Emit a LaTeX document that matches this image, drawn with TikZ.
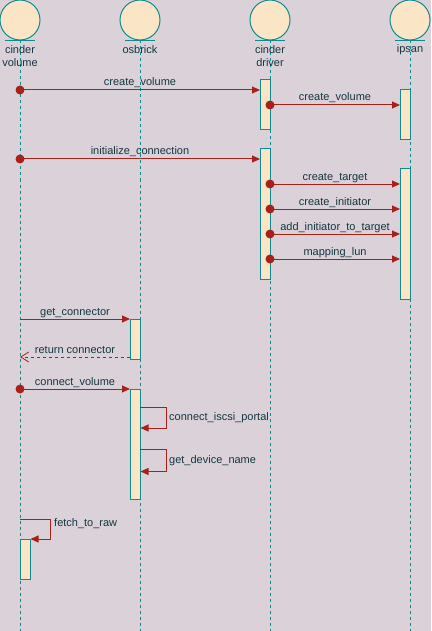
\documentclass[tikz,border=0pt]{standalone}
\usepackage{fontspec}
\setmainfont{Liberation Sans}
\usetikzlibrary{arrows.meta}
\definecolor{bgc}{HTML}{DAD2D8}
\definecolor{actfill}{HTML}{FAE5C7}
\definecolor{tealc}{HTML}{0F8B8D}
\definecolor{arrc}{HTML}{A8201A}
\definecolor{txtc}{HTML}{143642}
\tikzset{
  actor/.style={circle, draw=tealc, fill=actfill, line width=1pt, minimum size=40pt, inner sep=0pt},
  albl/.style={text=txtc, align=center, inner sep=0pt},
  lifeline/.style={draw=tealc, line width=1pt, dash pattern=on 3pt off 3pt},
  actbox/.style={draw=tealc, fill=actfill, line width=1pt, minimum width=10pt, inner sep=0pt},
  msg/.style={draw=arrc, line width=1pt, -{Triangle[length=8pt,width=7pt]}},
  retmsg/.style={draw=arrc, line width=0.8pt, dash pattern=on 3pt off 3pt, -{Straight Barb[length=8pt,width=10pt]}},
  mlbl/.style={text=txtc, anchor=base, inner sep=0pt, yshift=4pt},
  slbl/.style={text=txtc, anchor=west, inner sep=0pt},
  dot/.style={fill=arrc}
}
\begin{document}
\begin{tikzpicture}[x=1pt, y=-1pt, font=\fontsize{11}{13}\selectfont]
\fill[bgc] (0,0) rectangle (431,631);
\useasboundingbox (0,0) rectangle (431,631);
\coordinate (bottom) at (0,631);

% actors
\node[actor] (a1) at (20,20) {};
\node[actor] (a2) at (140,20) {};
\node[actor] (a3) at (270,20) {};
\node[actor] (a4) at (410,20) {};

% lifelines
\foreach \a in {a1,a2,a3,a4} {
  \draw[lifeline] (\a.south) -- (\a.south |- bottom);
  \draw[tealc, line width=1pt] ([xshift=-15pt]\a.south) -- ([xshift=15pt]\a.south);
}

% actor labels
\node[albl] (l1) at (20,56.5) {cinder\\volume};
\node[albl] (l2) at (140,50) {osbrick};
\node[albl] (l3) at (270,56.5) {cinder\\driver};
\node[albl] (l4) at (410,50) {ipsan};

% activation boxes
\node[actbox, minimum height=50pt] (d1) at (265,105) {};
\node[actbox, minimum height=50pt] (i1) at (405,114.5) {};
\node[actbox, minimum height=130pt] (d2) at (265,214) {};
\node[actbox, minimum height=130pt] (i2) at (405,234) {};
\node[actbox, minimum height=40pt] (o1) at (135,339) {};
\node[actbox, minimum height=110pt] (o2) at (135,444) {};
\node[actbox, minimum height=40pt] (v1) at (25,559) {};

% message end points
\coordinate (m1s) at (20,90);    \coordinate (m1e) at (260,90);
\coordinate (m2s) at (270,105);  \coordinate (m2e) at (400,105);
\coordinate (m3s) at (20,159);   \coordinate (m3e) at (260,159);
\coordinate (m4s) at (270,184);  \coordinate (m4e) at (400,184);
\coordinate (m5s) at (270,209);  \coordinate (m5e) at (400,209);
\coordinate (m6s) at (270,234);  \coordinate (m6e) at (400,234);
\coordinate (m7s) at (270,259);  \coordinate (m7e) at (400,259);
\coordinate (m8s) at (20,319);   \coordinate (m8e) at (130,319);
\coordinate (m9s) at (130,357);  \coordinate (m9e) at (20,357);
\coordinate (m10s) at (20,389);  \coordinate (m10e) at (130,389);

% messages
\draw[msg] (m1s) -- (m1e) node[mlbl, midway] {create\_volume};
\draw[msg] (m2s) -- (m2e) node[mlbl, midway] {create\_volume};
\draw[msg] (m3s) -- (m3e) node[mlbl, midway] {initialize\_connection};
\draw[msg] (m4s) -- (m4e) node[mlbl, midway] {create\_target};
\draw[msg] (m5s) -- (m5e) node[mlbl, midway] {create\_initiator};
\draw[msg] (m6s) -- (m6e) node[mlbl, midway] {add\_initiator\_to\_target};
\draw[msg] (m7s) -- (m7e) node[mlbl, midway] {mapping\_lun};
\draw[msg] (m8s) -- (m8e) node[mlbl, midway] {get\_connector};
\draw[retmsg] (m9s) -- (m9e) node[mlbl, midway] {return connector};
\draw[msg] (m10s) -- (m10e) node[mlbl, midway] {connect\_volume};

% start dots
\foreach \c in {m1s,m2s,m3s,m4s,m5s,m6s,m7s,m10s}
  \fill[dot] (\c) circle (4.5pt);

% self messages
\coordinate (s1a) at (140,407); \coordinate (s1b) at (166,428);
\draw[msg] (s1a) -| (s1b) -- (o2.east |- s1b);
\node[slbl] (s1l) at (169,417.5) {connect\_iscsi\_portal};

\coordinate (s2a) at (140,449); \coordinate (s2b) at (166,471.5);
\draw[msg] (s2a) -| (s2b) -- (o2.east |- s2b);
\node[slbl] (s2l) at (169,460.5) {get\_device\_name};

\coordinate (s3a) at (20,519); \coordinate (s3b) at (50,539);
\draw[msg] (s3a) -| (s3b) -- (v1.east |- s3b);
\node[slbl] (s3l) at (54,524) {fetch\_to\_raw};
\end{tikzpicture}
\end{document}
